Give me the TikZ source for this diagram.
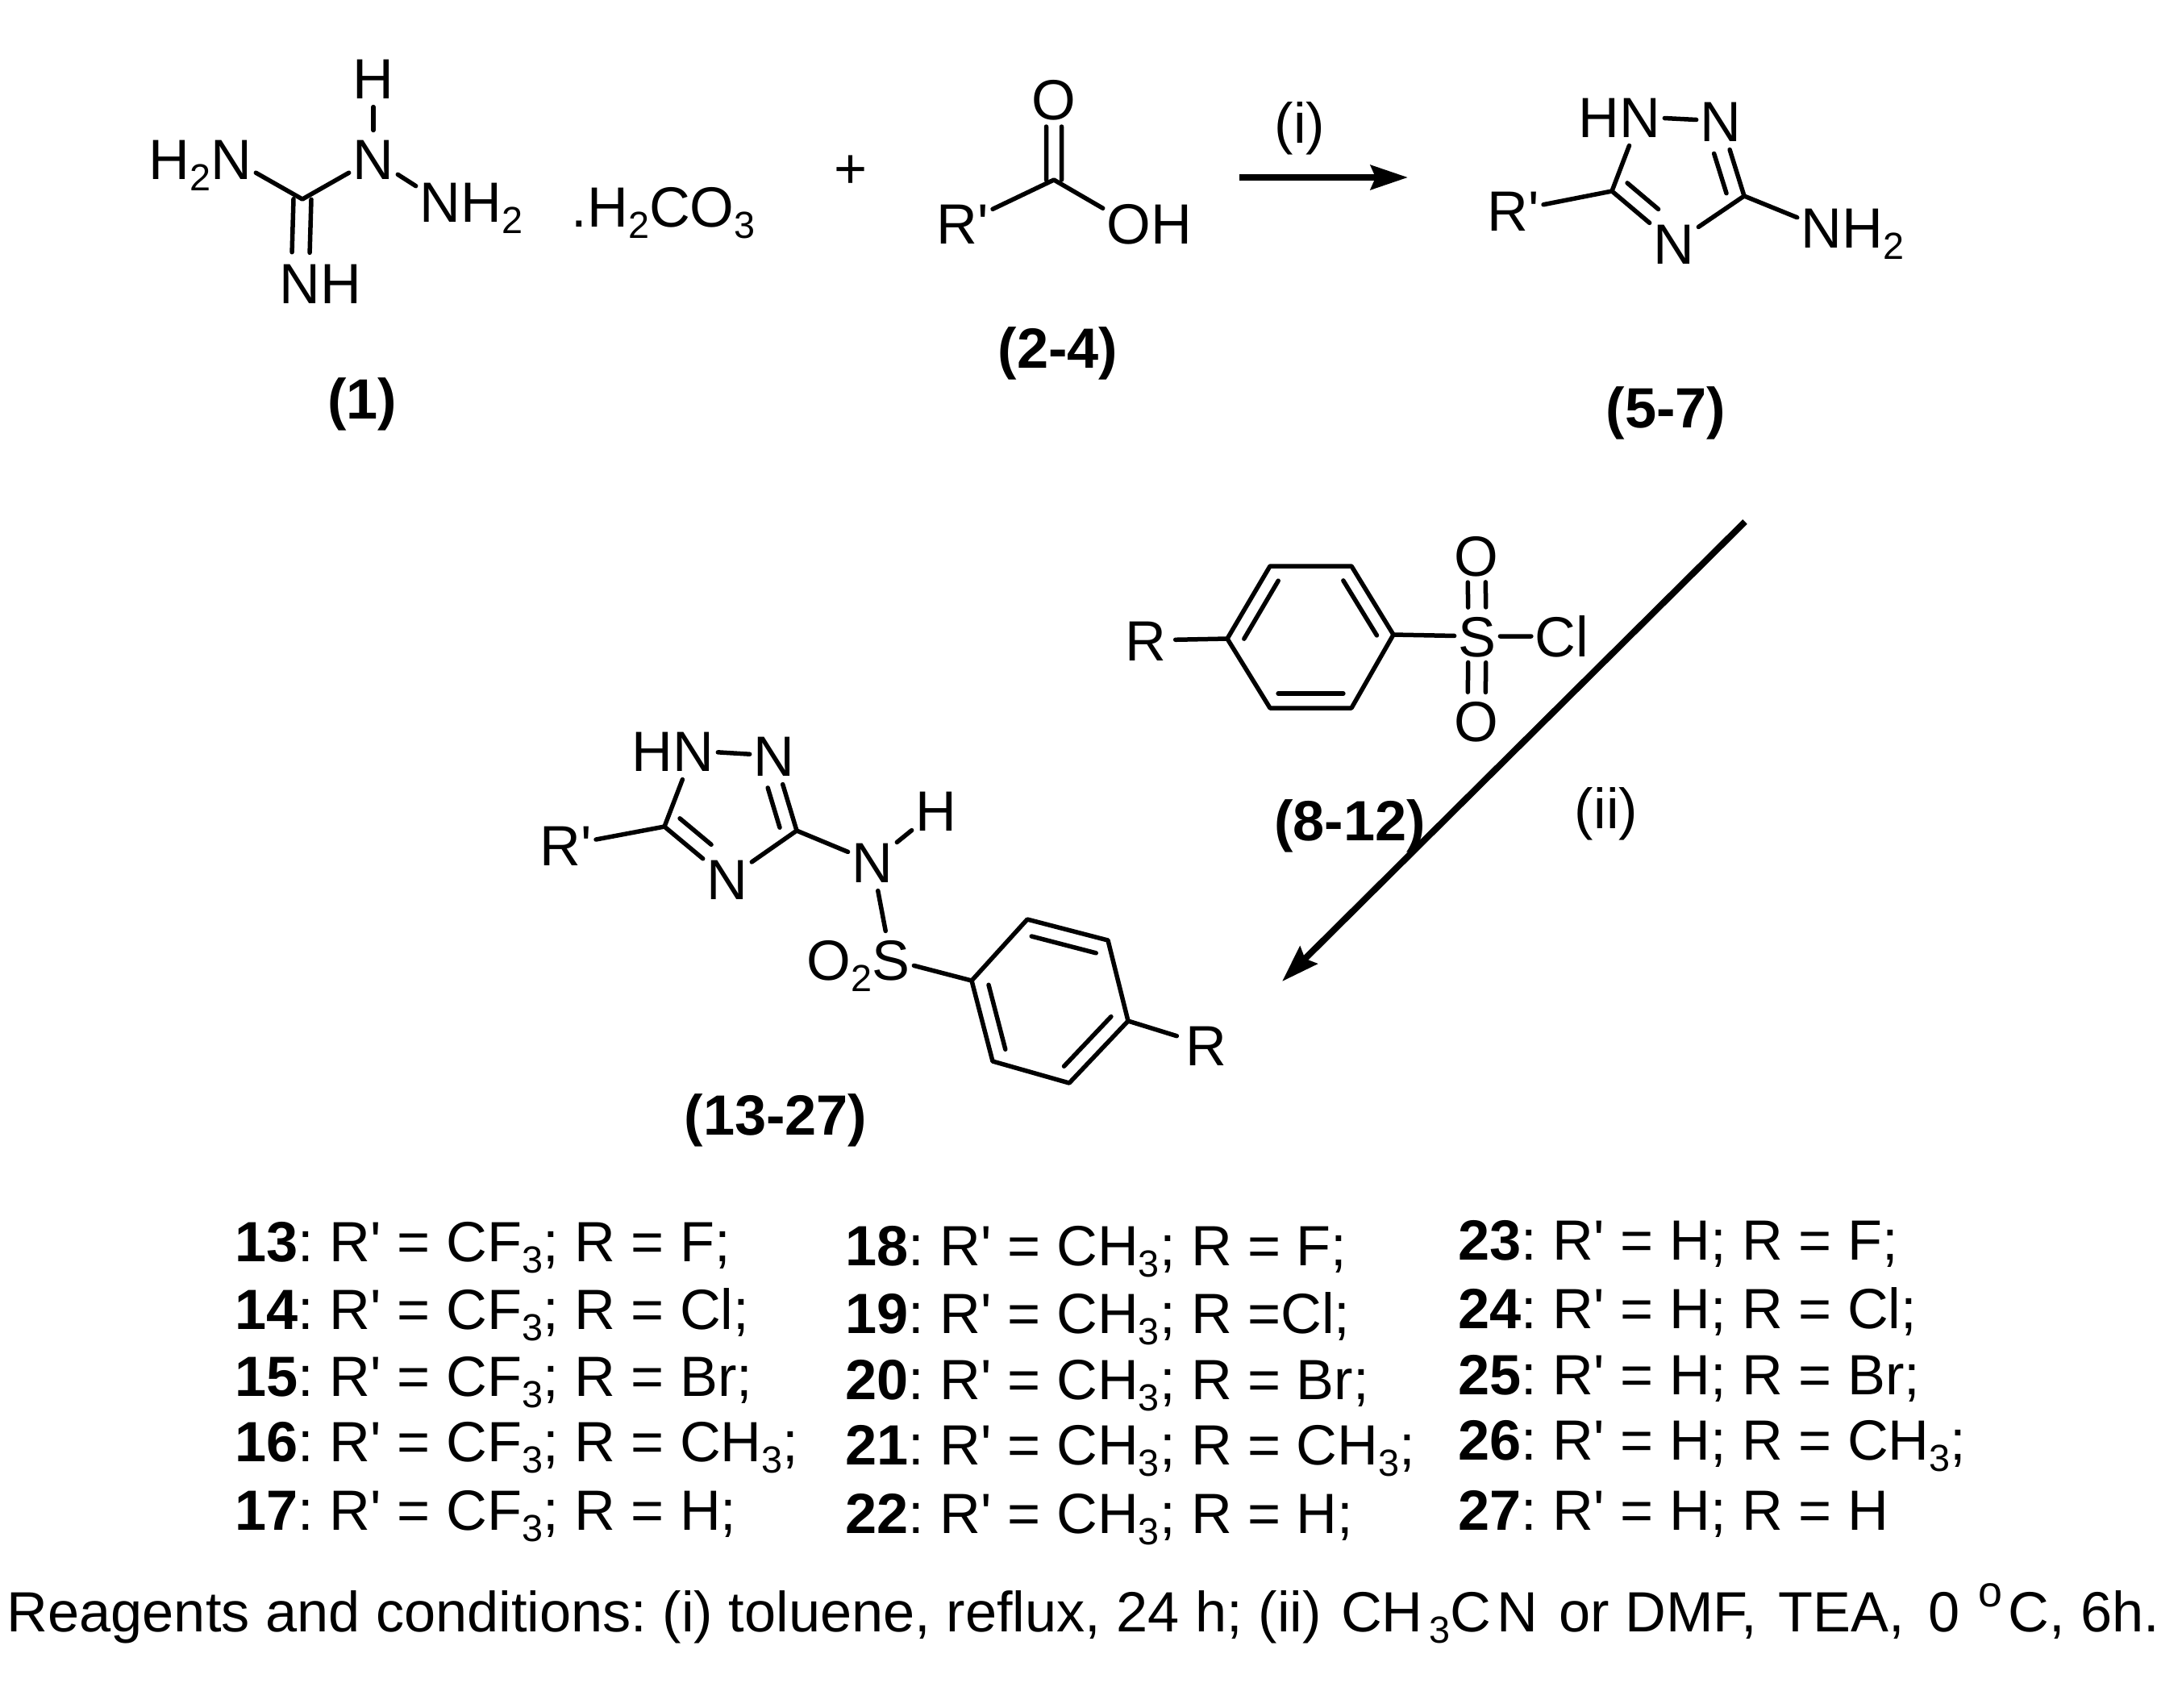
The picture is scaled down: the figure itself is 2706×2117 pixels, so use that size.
\documentclass[tikz,border=0pt]{standalone}
\usepackage{fontspec}
\setmainfont{Liberation Sans}[Ligatures=TeXOff]
\usetikzlibrary{calc,arrows.meta}
\newcommand{\sbs}[1]{\raisebox{-.14cm}{\fontsize{13.3}{14}\selectfont #1}}
\newcommand{\sps}[1]{\raisebox{.31cm}{\fontsize{15.3}{16}\selectfont #1}}
\newcommand{\inbond}[5]{\draw[bond] ($(#1)!#3!(#2)!#5!90:(#2)$) -- ($(#1)!#4!(#2)!#5!90:(#2)$);}
\frenchspacing
\begin{document}
\begin{tikzpicture}[
  x=0.01cm, y=-0.01cm,
  every node/.style={font=\fontsize{20}{24}\selectfont, text=black},
  atom/.style={inner xsep=1.2pt, inner ysep=2.8pt, text height=.5cm, text depth=0pt},
  rgroup/.style={atom, inner xsep=3pt},
  cmpd/.style={atom, font=\fontsize{20}{24}\selectfont\bfseries},
  rowtext/.style={anchor=base west, inner sep=0pt}
]
\tikzset{
  bond/.style={line width=.055cm, line cap=round, line join=round},
  reaction/.style={-{Stealth[length=.46cm,width=.3cm,inset=.06cm]}, line width=.08cm}
}
\useasboundingbox (0,0) rectangle (2706,2117);

% aminoguanidine carbonate
\node[atom] (hone) at (463,97) {H};
\node[atom] (nhyd) at (463,197) {N};
\node[atom] (nleft) at (287,197) {\llap{H\sbs{2}}N};
\node[atom] (nright) at (546,250) {N\rlap{H\sbs{2}}};
\node[atom] (nimine) at (372,351) {N\rlap{H}};
\coordinate (cone) at (375,247);
\draw[bond] (hone) -- (nhyd);
\draw[bond] (nleft) -- (cone) -- (nhyd);
\draw[bond] (nhyd) -- (nright);
\inbond{cone}{nimine}{0}{.635}{.11cm}
\inbond{cone}{nimine}{0}{.635}{-.11cm}
\node[rowtext] (salt) at (708,281) {.H\sbs{2}CO\sbs{3}};
\node[atom] (plus) at (1055,208) {+};
\node[cmpd] (lblone) at (449,494) {(1)};

% acid
\node[atom] (oacid) at (1307,123) {O};
\node[atom] (rpacid) at (1194,277) {R'};
\node[atom] (ohacid) at (1400,277) {O\rlap{H}};
\coordinate (cacid) at (1307,223);
\draw[bond] (rpacid) -- (cacid) -- (ohacid);
\inbond{cacid}{oacid}{0}{.66}{.095cm}
\inbond{cacid}{oacid}{0}{.66}{-.095cm}
\node[cmpd] (lblacid) at (1312,431) {(2-4)};

% first step
\coordinate (arrowastart) at (1537,220);
\coordinate (arrowaend) at (1746,220);
\draw[reaction] (arrowastart) -- (arrowaend);
\node[atom] (stepi) at (1612,152) {(i)};

% aminotriazole
\node[atom] (nta) at (2034,145) {\llap{H}N};
\node[atom] (ntb) at (2134,150) {N};
\node[atom] (ntc) at (2076,302) {N};
\node[atom] (nham) at (2259,282) {N\rlap{H\sbs{2}}};
\node[atom] (rptri) at (1877,261) {R'};
\coordinate (cta) at (1999,237);
\coordinate (ctb) at (2163,243);
\draw[bond] (nta) -- (ntb) -- (ctb) -- (ntc) -- (cta) -- (nta);
\draw[bond] (rptri) -- (cta);
\draw[bond] (ctb) -- (nham);
\inbond{ctb}{ntb}{.1}{.63}{.2cm}
\inbond{cta}{ntc}{.08}{.58}{.2cm}
\node[cmpd] (lbltri) at (2066,505) {(5-7)};

% sulfonyl chloride
\node[rgroup] (rsul) at (1421,794) {R};
\node[atom] (ssul) at (1832,789) {S};
\node[atom] (clsul) at (1937,789) {Cl};
\node[atom] (otop) at (1831,689) {O};
\node[atom] (obot) at (1831,894) {O};
\coordinate (ba) at (1522,792);
\coordinate (bb) at (1575,702);
\coordinate (bc) at (1676,702);
\coordinate (bd) at (1728,787);
\coordinate (be) at (1676,878);
\coordinate (bf) at (1575,878);
\draw[bond] (ba) -- (bb) -- (bc) -- (bd) -- (be) -- (bf) -- cycle;
\draw[bond] (rsul) -- (ba);
\draw[bond] (bd) -- (ssul) -- (clsul);
\inbond{ba}{bb}{.1}{.9}{-.18cm}
\inbond{bc}{bd}{.1}{.9}{-.18cm}
\inbond{be}{bf}{.1}{.9}{-.18cm}
\inbond{ssul}{otop}{.36}{.67}{.11cm}
\inbond{ssul}{otop}{.36}{.67}{-.11cm}
\inbond{ssul}{obot}{.31}{.66}{.11cm}
\inbond{ssul}{obot}{.31}{.66}{-.11cm}
\node[cmpd] (lblsul) at (1674,1017) {(8-12)};

% second step
\coordinate (arrowbstart) at (2164,647);
\coordinate (arrowbend) at (1590,1217);
\draw[reaction] (arrowbstart) -- (arrowbend);
\node[atom] (stepii) at (1992,1002) {(ii)};

% product
\node[atom] (npa) at (860,931) {\llap{H}N};
\node[atom] (npb) at (960,937) {N};
\node[atom] (npc) at (902,1090) {N};
\node[atom] (nph) at (1082,1069) {N};
\node[atom] (hph) at (1161,1005) {H};
\node[atom] (rpprod) at (702,1048) {R'};
\node[atom] (sprod) at (1105,1190) {\llap{O\sbs{2}}S};
\node[rgroup] (rprod) at (1496,1296) {R};
\coordinate (cpa) at (824,1025);
\coordinate (cpb) at (988,1030);
\draw[bond] (npa) -- (npb) -- (cpb) -- (npc) -- (cpa) -- (npa);
\draw[bond] (rpprod) -- (cpa);
\draw[bond] (cpb) -- (nph) -- (hph);
\draw[bond] (nph) -- (sprod);
\inbond{cpb}{npb}{.1}{.63}{.19cm}
\inbond{cpa}{npc}{.08}{.58}{.2cm}
\coordinate (pa) at (1205,1216);
\coordinate (pb) at (1274,1140);
\coordinate (pc) at (1374,1166);
\coordinate (pd) at (1399,1266);
\coordinate (pe) at (1326,1343);
\coordinate (pf) at (1231,1316);
\draw[bond] (pa) -- (pb) -- (pc) -- (pd) -- (pe) -- (pf) -- cycle;
\draw[bond] (sprod) -- (pa);
\draw[bond] (pd) -- (rprod);
\inbond{pb}{pc}{.1}{.9}{-.19cm}
\inbond{pd}{pe}{.1}{.9}{-.19cm}
\inbond{pf}{pa}{.1}{.9}{-.19cm}
\node[cmpd] (lblprod) at (962,1382) {(13-27)};

% table of compounds
\foreach \num/\yy/\rs in {13/1564/{= F;}, 14/1648/{= Cl;}, 15/1731/{= Br;}, 16/1812/{= CH\sbs{3};}, 17/1897/{= H;}}
  \node[rowtext] (row\num) at (291,\yy) {\textbf{\num}: R' = CF\sbs{3}; R \rs};
\foreach \num/\yy/\rs in {18/1569/{= F;}, 19/1653/{=Cl;}, 20/1735/{= Br;}, 21/1816/{= CH\sbs{3};}, 22/1901/{= H;}}
  \node[rowtext] (row\num) at (1048,\yy) {\textbf{\num}: R' = CH\sbs{3}; R \rs};
\foreach \num/\yy/\rs in {23/1562/{= F;}, 24/1647/{= Cl;}, 25/1729/{= Br;}, 26/1810/{= CH\sbs{3};}, 27/1897/{= H}}
  \node[rowtext] (row\num) at (1808,\yy) {\textbf{\num}: R' = H; R \rs};

\node[rowtext] (caption) at (8,2023) {Reagents and conditions: (i) toluene, reflux, 24 h; (ii) \hspace{.05cm}CH\hspace{.07cm}\sbs{3}C\hspace{.08cm}N\hspace{.06cm} or DMF,\hspace{.07cm} TEA,\hspace{.1cm} 0\hspace{.03cm} \sps{o}\hspace{.07cm}C, 6h.};
\end{tikzpicture}
\end{document}
